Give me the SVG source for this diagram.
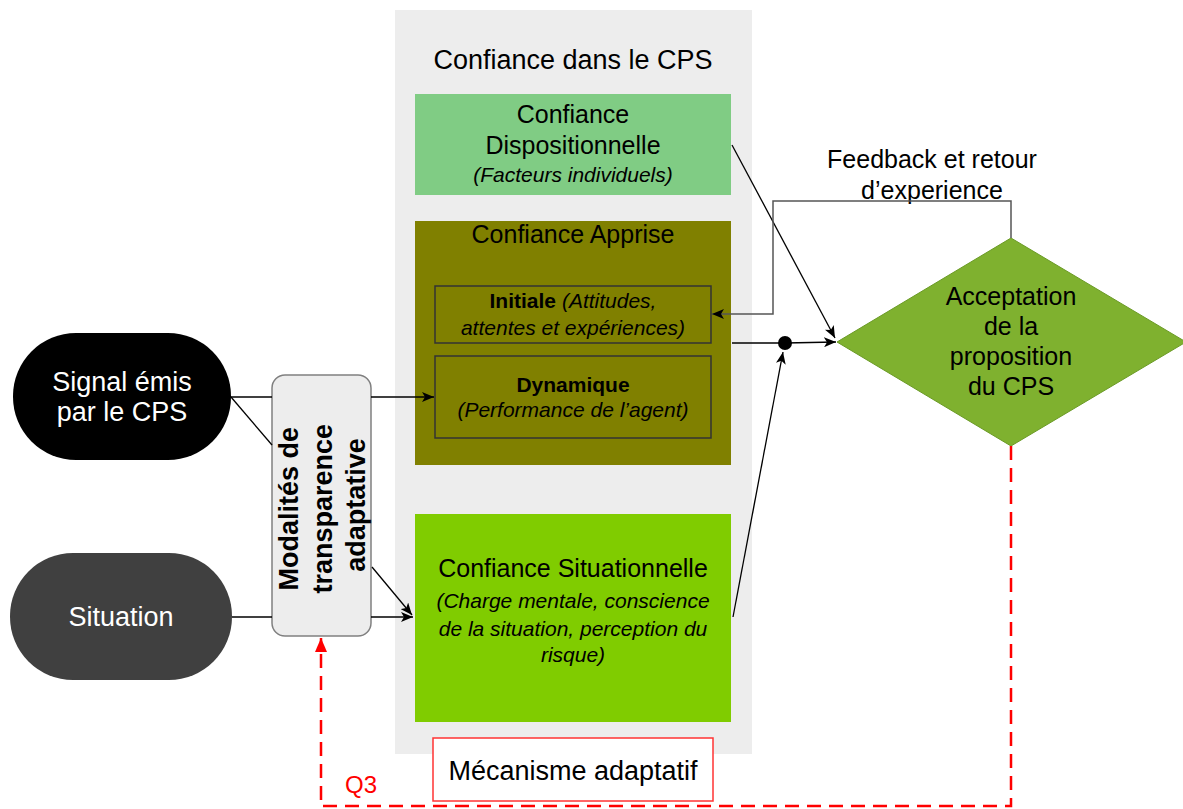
<svg xmlns="http://www.w3.org/2000/svg" width="1183" height="809" viewBox="0 0 1183 809">
<defs>
<style>
text{font-family:"Liberation Sans",Arial,sans-serif;fill:#000}
.c{text-anchor:middle}
.t25{font-size:25px}
.t27{font-size:27px}
.it{font-style:italic;font-size:21px}
.b21{font-weight:bold;font-size:21px}
.ln{stroke:#000;stroke-width:1.3;fill:none}
.lg{stroke:#555;stroke-width:1.5;fill:none}
.red{stroke:#f00;stroke-width:2.5;fill:none;stroke-dasharray:14 8}
.inner{fill:none;stroke:#333;stroke-width:1.5}
</style>
<marker id="ah" viewBox="0 0 12 10" refX="12" refY="5" markerWidth="12" markerHeight="10" markerUnits="userSpaceOnUse" orient="auto">
<path d="M0,0 L12,5 L0,10 L3,5 Z" fill="#000"/>
</marker>
<marker id="ahr" viewBox="0 0 14 12" refX="14" refY="6" markerWidth="14" markerHeight="12" markerUnits="userSpaceOnUse" orient="auto">
<path d="M0,0 L14,6 L0,12 Z" fill="#f00"/>
</marker>
</defs>
<rect width="1183" height="809" fill="#fff"/>

<g id="panel">
<rect x="395" y="10" width="357" height="744" fill="#ededed"/>
<text class="c" x="573" y="69" style="font-size:27px">Confiance dans le CPS</text>
</g>

<g id="dispositionnelle">
<rect x="415" y="94" width="316" height="101" fill="#80cc84"/>
<text class="c t25" x="573" y="123">Confiance</text>
<text class="c t25" x="573" y="154">Dispositionnelle</text>
<text class="c it" x="573" y="182">(Facteurs individuels)</text>
</g>

<g id="apprise">
<rect x="415" y="221" width="316" height="244" fill="#808000"/>
<text class="c t25" x="573" y="243">Confiance Apprise</text>
</g>

<g id="initiale">
<rect class="inner" x="435" y="286" width="276" height="57"/>
<text class="c" x="573" y="308"><tspan class="b21">Initiale</tspan><tspan class="it"> (Attitudes,</tspan></text>
<text class="c it" x="573" y="335">attentes et expériences)</text>
</g>

<g id="dynamique">
<rect class="inner" x="435" y="356" width="276" height="82"/>
<text class="c b21" x="573" y="392">Dynamique</text>
<text class="c it" x="573" y="417">(Performance de l’agent)</text>
</g>

<g id="situationnelle">
<rect x="415" y="514" width="316" height="208" fill="#80cc00"/>
<text class="c t25" x="573" y="577">Confiance Situationnelle</text>
<text class="c it" x="573" y="608">(Charge mentale, conscience</text>
<text class="c it" x="573" y="636">de la situation, perception du</text>
<text class="c it" x="573" y="662">risque)</text>
</g>

<g id="mecanisme">
<rect x="433" y="738" width="280" height="63" fill="#fff" stroke="#f33" stroke-width="1.5"/>
<text class="c t27" x="573" y="780">Mécanisme adaptatif</text>
</g>

<g id="signal">
<rect x="13" y="333" width="218" height="127" rx="63" ry="63" fill="#000"/>
<text class="c t27" x="122" y="391" style="fill:#fff">Signal émis</text>
<text class="c t27" x="122" y="421" style="fill:#fff">par le CPS</text>
</g>

<g id="situation">
<rect x="10" y="553" width="222" height="127" rx="63" ry="63" fill="#404040"/>
<text class="c t27" x="121" y="626" style="fill:#fff">Situation</text>
</g>

<g id="modalites">
<rect x="272" y="375" width="99" height="261" rx="13" ry="13" fill="#ededed" stroke="#808080" stroke-width="1.5"/>
<text class="c" transform="translate(321,505) rotate(-90)" style="font-weight:bold;font-size:27px">
<tspan x="0" y="-23">Modalités de</tspan>
<tspan x="0" y="11">transparence</tspan>
<tspan x="0" y="44">adaptative</tspan>
</text>
</g>

<g id="acceptation">
<polygon points="1011,238 1186,342 1011,446 837,342" fill="#7fb12f" stroke="#6a9a25" stroke-width="1"/>
<text class="c t25" x="1011" y="305">Acceptation</text>
<text class="c t25" x="1011" y="335">de la</text>
<text class="c t25" x="1011" y="365">proposition</text>
<text class="c t25" x="1011" y="395">du CPS</text>
</g>

<g id="feedback-label">
<text class="c t25" x="932" y="168">Feedback et retour</text>
<text class="c t25" x="932" y="199">d’experience</text>
</g>

<g id="connectors">
<line class="ln" x1="231" y1="397" x2="272" y2="397"/>
<line class="ln" x1="231" y1="397" x2="272" y2="445"/>
<line class="ln" x1="371" y1="397" x2="434" y2="397" marker-end="url(#ah)"/>
<line class="ln" x1="232" y1="617" x2="272" y2="617"/>
<line class="ln" x1="371" y1="617" x2="413" y2="617" marker-end="url(#ah)"/>
<line class="ln" x1="372" y1="567" x2="412" y2="615" marker-end="url(#ah)"/>
<line class="ln" x1="732" y1="145" x2="835" y2="338" marker-end="url(#ah)"/>
<line class="ln" x1="732" y1="343" x2="785" y2="343"/>
<circle cx="785" cy="343" r="7" fill="#000"/>
<line class="ln" x1="785" y1="343" x2="836" y2="342" marker-end="url(#ah)"/>
<line class="ln" x1="733" y1="617" x2="783" y2="352" marker-end="url(#ah)"/>
<polyline class="lg" points="1011,238 1011,201 773,201 773,314 712,314" marker-end="url(#ah)"/>
<polyline class="red" points="1011,446 1011,806 321,806 321,638" marker-end="url(#ahr)"/>
<text x="345" y="793" style="font-size:24px;fill:#f00">Q3</text>
</g>
</svg>
